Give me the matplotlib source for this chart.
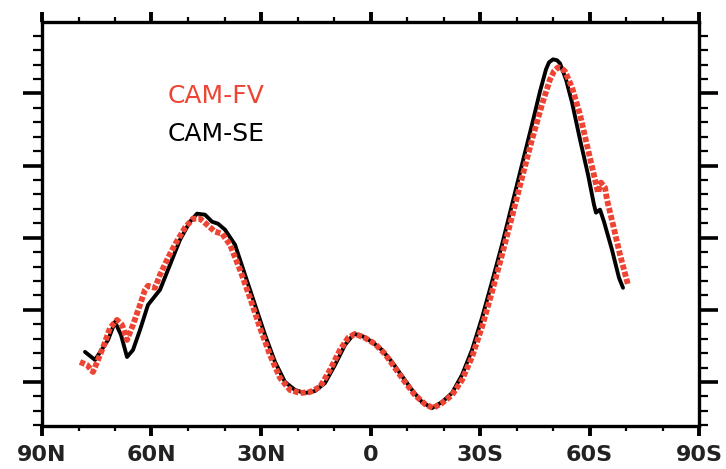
import matplotlib
matplotlib.use("Agg")
import matplotlib.pyplot as plt
from matplotlib.ticker import MultipleLocator, FixedLocator

# CAM-SE (black)
se_lat = [78.22, 75.48, 71.9, 70.0, 68.36, 66.71, 65.07, 63.15, 60.96, 59.86, 57.67,
          54.93, 52.19, 49.45, 47.53, 45.34, 43.42, 41.78, 39.86, 37.12, 34.38, 31.64,
          28.90, 26.16, 23.42, 20.68, 17.95, 15.21, 12.47, 9.73, 6.99, 4.52, 2.33,
          -0.41, -3.15, -5.89, -8.63, -11.37, -14.11, -16.85, -19.59, -22.33, -25.07,
          -27.81, -30.55, -33.29, -36.03, -38.77, -41.51, -44.25, -46.44, -48.08,
          -48.90, -50.0, -51.10, -51.92, -53.56, -55.21, -57.40, -59.59, -61.23, -61.78,
          -62.88, -63.97, -66.16, -68.08, -69.18]
se_val = [0.417, 0.306, 0.583, 0.833, 0.653, 0.347, 0.444, 0.722, 1.069, 1.139, 1.278,
          1.625, 1.972, 2.222, 2.333, 2.319, 2.222, 2.194, 2.111, 1.903, 1.486, 1.069,
          0.653, 0.278, 0.0, -0.111, -0.153, -0.125, -0.014, 0.236, 0.514, 0.667, 0.639,
          0.556, 0.444, 0.278, 0.083, -0.111, -0.278, -0.361, -0.278, -0.153, 0.097,
          0.444, 0.889, 1.389, 1.903, 2.458, 3.014, 3.569, 4.028, 4.333,
          4.43, 4.472, 4.46, 4.417, 4.194, 3.875, 3.361, 2.875, 2.458, 2.347,
          2.389, 2.222, 1.833, 1.444, 1.306]

# CAM-FV (red)
fv_lat = [79.59, 77.67, 76.03, 74.66, 73.01, 71.37, 69.45, 68.08, 66.71, 65.07, 63.15,
          61.78, 60.96, 59.04, 57.67, 55.48, 53.29, 50.82, 48.63, 46.71, 44.79, 42.60,
          40.68, 38.49, 35.75, 33.01, 30.27, 27.53, 24.79, 22.05, 19.32, 16.58, 13.84,
          11.10, 8.36, 6.16, 4.25, 1.51, -1.23, -3.97, -6.71, -9.45, -12.19, -14.93,
          -17.12, -19.59, -22.33, -25.07, -27.81, -30.55, -33.29, -36.03, -38.77,
          -41.51, -44.25, -46.99, -49.18, -50.30, -51.37, -52.30, -53.29, -55.21,
          -57.40, -59.59, -61.51, -62.33, -63.15, -64.25, -64.79, -66.44, -68.36, -70.55]
fv_val = [0.278, 0.236, 0.139, 0.306, 0.514, 0.75, 0.861, 0.792, 0.583, 0.792, 1.069,
          1.278, 1.333, 1.306, 1.486, 1.722, 1.931, 2.139, 2.264, 2.264, 2.181, 2.083,
          2.056, 1.903, 1.556, 1.167, 0.75, 0.375, 0.056, -0.111, -0.153, -0.139, -0.069,
          0.167, 0.444, 0.611, 0.667, 0.611, 0.528, 0.389, 0.194, 0.0, -0.181, -0.306,
          -0.361, -0.292, -0.181, 0.028, 0.347, 0.764, 1.25, 1.764, 2.292,
          2.833, 3.361, 3.847, 4.194, 4.31, 4.361, 4.35, 4.306, 4.083,
          3.708, 3.222, 2.806, 2.625, 2.764, 2.694, 2.528, 2.181, 1.764, 1.347]

xtick_pos = [90, 60, 30, 0, -30, -60, -90]
xtick_labels = ["90N", "60N", "30N", "0", "30S", "60S", "90S"]
series_names = ["CAM-FV", "CAM-SE"]

red = "#EE4433"

fig = plt.figure(figsize=(7.26, 4.69), dpi=100)
ax = fig.add_axes([42/726, 1-426/469, (699-42)/726, (426-22)/469])

ax.plot(se_lat, se_val, color="black", lw=2.8, zorder=2,
        solid_capstyle="round", solid_joinstyle="round")
ax.plot(fv_lat, fv_val, color=red, lw=4.2, zorder=3, linestyle=(0, (0.9, 0.35)),
        dash_capstyle="butt")

ax.set_xlim(90, -90)
ax.set_ylim(-0.61, 4.99)

ax.xaxis.set_major_locator(FixedLocator(xtick_pos))
ax.set_xticklabels(xtick_labels)
ax.xaxis.set_minor_locator(MultipleLocator(10))
ax.yaxis.set_major_locator(MultipleLocator(1))
ax.yaxis.set_minor_locator(MultipleLocator(0.2))

for s in ax.spines.values():
    s.set_linewidth(2.4)

ax.tick_params(axis="x", which="major", direction="out", length=7.5, width=2.8,
               top=True, bottom=True, labelsize=16, pad=6)
ax.tick_params(axis="x", which="minor", direction="out", length=3.8, width=1.6,
               top=True, bottom=True)
ax.tick_params(axis="y", which="major", direction="out", length=13.5, width=2.6,
               left=True, right=True, labelleft=False, labelright=False)
ax.tick_params(axis="y", which="minor", direction="out", length=6.5, width=1.6,
               left=True, right=True)
for lab in ax.get_xticklabels():
    lab.set_fontweight("bold")
    lab.set_color("#222222")

fig.text(168/726, 1-103/469, series_names[0], color=red, fontsize=18,
         ha="left", va="baseline")
fig.text(168/726, 1-141/469, series_names[1], color="black", fontsize=18,
         ha="left", va="baseline")

fig.savefig("out.png", dpi=100)
